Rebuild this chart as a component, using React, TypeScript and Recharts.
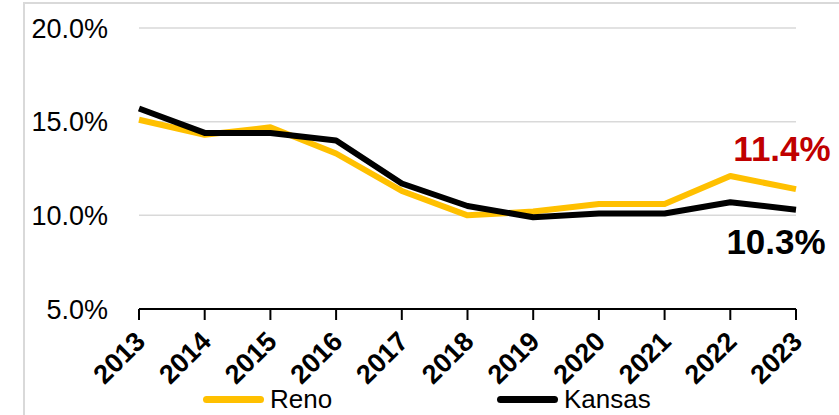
import React from 'react';
import { LineChart, Line, XAxis, YAxis, CartesianGrid, LabelList, Legend } from 'recharts';

const years = ['2013', '2014', '2015', '2016', '2017', '2018', '2019', '2020', '2021', '2022', '2023'];
const reno = [15.1, 14.3, 14.7, 13.3, 11.3, 10.0, 10.2, 10.6, 10.6, 12.1, 11.4];
const kansas = [15.7, 14.4, 14.4, 14.0, 11.7, 10.5, 9.9, 10.1, 10.1, 10.7, 10.3];
const yTicks = [5, 10, 15, 20];
const seriesNames = ['Reno', 'Kansas'];
const seriesColors = ['#FFC000', '#000000'];

const data = years.map((y, i) => ({ year: y, reno: reno[i], kansas: kansas[i] }));

const FONT = '"Liberation Sans", Arial, sans-serif';

const XTick = (props: any) => {
  const { x, y, payload } = props;
  const ax = x + 8;
  const ay = y + 21;
  return (
    <text
      x={ax}
      y={ay}
      transform={`rotate(-45, ${ax}, ${ay})`}
      textAnchor="end"
      fontFamily={FONT}
      fontWeight="bold"
      fontSize={27}
      fill="#000"
    >
      {payload.value}
    </text>
  );
};

const makeEndLabel = (color: string, dx: number, dy: number) => (props: any) => {
  const { x, y, index, value } = props;
  if (index !== years.length - 1) return null;
  return (
    <text
      x={x + dx}
      y={y + dy}
      textAnchor="middle"
      dominantBaseline="central"
      fontFamily={FONT}
      fontWeight="bold"
      fontSize={35}
      fill={color}
    >
      {`${Number(value).toFixed(1)}%`}
    </text>
  );
};

const renderLegend = () => (
  <div style={{ position: 'relative', width: 839, height: 40 }}>
    {[
      { name: seriesNames[0], color: seriesColors[0], lx: 203, tx: 270 },
      { name: seriesNames[1], color: seriesColors[1], lx: 497, tx: 564 },
    ].map((it) => (
      <React.Fragment key={it.name}>
        <div
          style={{
            position: 'absolute',
            left: it.lx,
            top: 16,
            width: 61,
            height: 7,
            borderRadius: 4,
            background: it.color,
          }}
        />
        <div
          style={{
            position: 'absolute',
            left: it.tx,
            top: 4,
            fontFamily: FONT,
            fontSize: 26,
            lineHeight: '30px',
            color: '#000',
          }}
        >
          {it.name}
        </div>
      </React.Fragment>
    ))}
  </div>
);

export default function App() {
  return (
    <div
      style={{
        position: 'absolute',
        left: 0,
        top: 0,
        width: 839,
        height: 415,
        overflow: 'hidden',
        background: '#fff',
      }}
    >
      <div
        style={{
          position: 'absolute',
          left: 23,
          top: 2,
          width: 900,
          height: 500,
          border: '2px solid #D9D9D9',
          boxSizing: 'border-box',
        }}
      />
      <LineChart
        width={839}
        height={415}
        data={data}
        margin={{ top: 28, right: 43, bottom: 6, left: 0 }}
        style={{ position: 'absolute', left: 0, top: 0 }}
      >
        <CartesianGrid vertical={false} stroke="#D9D9D9" strokeWidth={1.5} />
        <XAxis
          dataKey="year"
          interval={0}
          height={60}
          axisLine={{ stroke: '#000', strokeWidth: 2 }}
          tickLine={{ stroke: '#000', strokeWidth: 2 }}
          tickSize={11}
          tickMargin={2}
          tick={<XTick />}
        />
        <YAxis
          width={139}
          domain={[5, 20]}
          ticks={yTicks}
          axisLine={false}
          tickLine={false}
          tickSize={0}
          tickMargin={31}
          tickFormatter={(v: number) => `${v.toFixed(1)}%`}
          tick={{ fontFamily: FONT, fontSize: 27, fill: '#000' }}
        />
        <Legend
          verticalAlign="bottom"
          content={renderLegend}
          wrapperStyle={{ position: 'absolute', left: 0, top: 380, width: 839, height: 40 }}
        />
        <Line
          dataKey="reno"
          name={seriesNames[0]}
          stroke={seriesColors[0]}
          strokeWidth={6}
          dot={false}
          isAnimationActive={false}
          strokeLinejoin="round"
        >
          <LabelList dataKey="reno" content={makeEndLabel('#C00000', -14, -41)} />
        </Line>
        <Line
          dataKey="kansas"
          name={seriesNames[1]}
          stroke={seriesColors[1]}
          strokeWidth={6}
          dot={false}
          isAnimationActive={false}
          strokeLinejoin="round"
        >
          <LabelList dataKey="kansas" content={makeEndLabel('#000000', -20, 32)} />
        </Line>
      </LineChart>
    </div>
  );
}
